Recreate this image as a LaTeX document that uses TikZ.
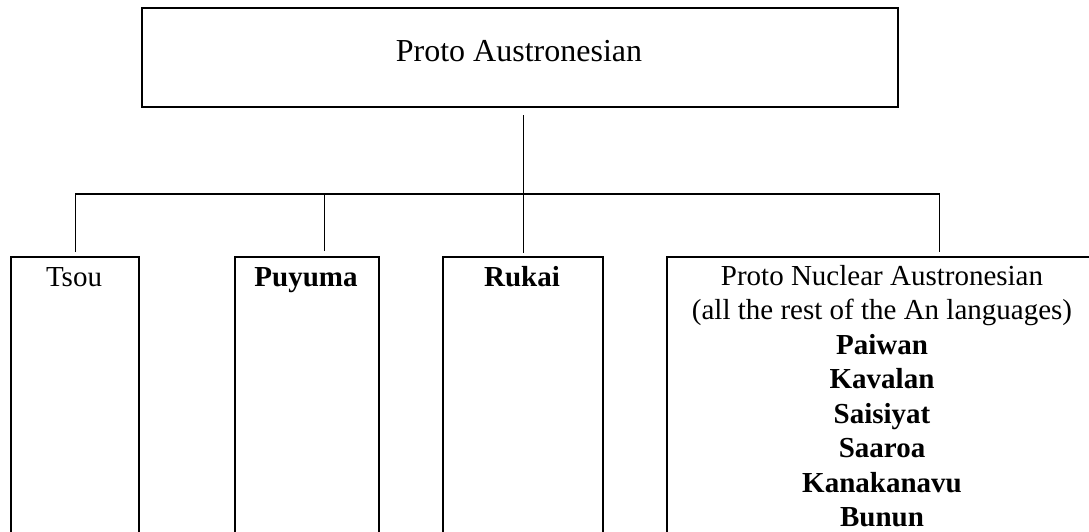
\documentclass[tikz,border=0pt]{standalone}
\usepackage{fontspec}
\setmainfont{Liberation Serif}
\begin{document}
\begin{tikzpicture}[x=1pt,y=-1pt,
  box/.style={draw=black,line width=2.4pt,rectangle,inner sep=0pt,anchor=north west},
  conn/.style={draw=black,line width=1.3pt},
  bigtxt/.style={anchor=base,inner sep=0pt,font=\fontsize{32}{34}\selectfont},
  txt/.style={anchor=base,inner sep=0pt,font=\fontsize{29}{34.5}\selectfont},
  btxt/.style={txt,font=\fontsize{29}{34.5}\selectfont\bfseries}]
\clip (0,0) rectangle (1089,532);
\fill[white] (0,0) rectangle (1089,532);
% boxes
\node[box,minimum width=756pt,minimum height=99pt] (top) at (141,7) {};
\node[box,minimum width=128pt,minimum height=340pt] (tsou) at (10,256) {};
\node[box,minimum width=144pt,minimum height=340pt] (puyuma) at (234,256) {};
\node[box,minimum width=160pt,minimum height=340pt] (rukai) at (442,256) {};
\node[box,minimum width=432pt,minimum height=340pt] (pna) at (666,256) {};
% texts
\node[bigtxt] (tA) at (519,62) {Proto Austronesian};
\node[txt] (tT) at (74,286) {Tsou};
\node[btxt] (tP) at (306,286) {Puyuma};
\node[btxt] (tR) at (522,286) {Rukai};
\node[txt] (n1) at (882,285) {Proto Nuclear Austronesian};
\node[txt] (n2) at (882,319.5) {(all the rest of the An languages)};
\node[btxt] (n3) at (882,354) {Paiwan};
\node[btxt] (n4) at (882,388.5) {Kavalan};
\node[btxt] (n5) at (882,423) {Saisiyat};
\node[btxt] (n6) at (882,457.5) {Saaroa};
\node[btxt] (n7) at (882,492) {Kanakanavu};
\node[btxt] (n8) at (882,526.5) {Bunun};
% connectors
\coordinate (ybar) at (0,194);
\coordinate (pd) at ([xshift=17pt,yshift=5pt]puyuma.north);
\coordinate (nd) at ([xshift=56pt,yshift=4pt]pna.north);
\draw[conn] (top.south -| rukai.north) ++(0,7) -- ([yshift=3pt]rukai.north);
\draw[conn] ([yshift=4pt]tsou.north) |- (ybar -| nd) -- (nd);
\draw[conn] (pd) -- (pd |- ybar);
\end{tikzpicture}
\end{document}
